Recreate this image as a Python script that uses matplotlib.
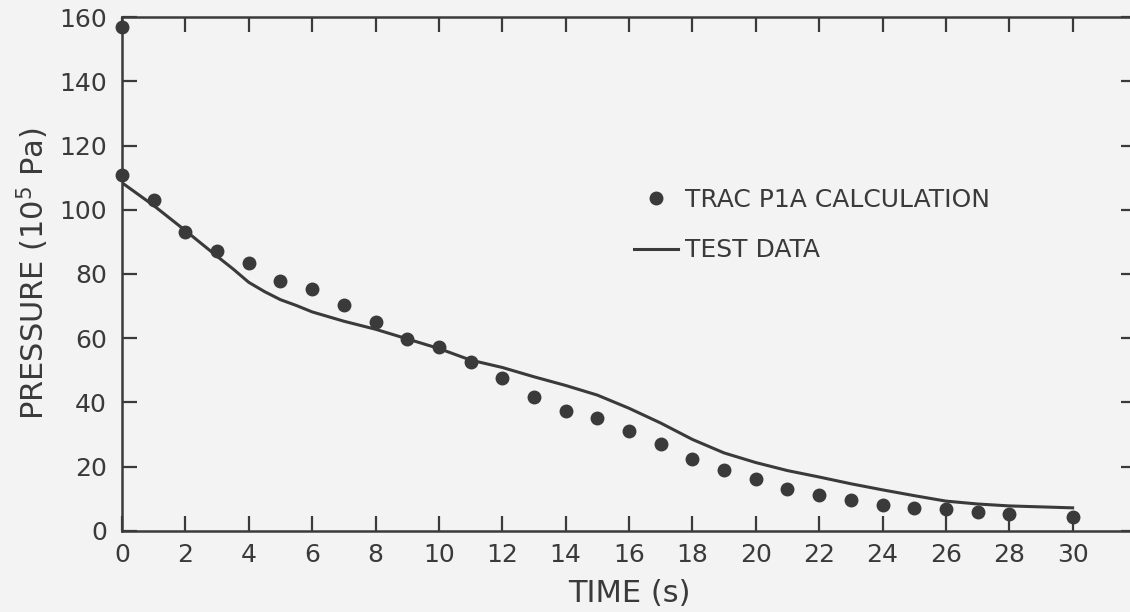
import matplotlib
matplotlib.use("Agg")
import matplotlib.pyplot as plt

# --- data ---
calc_time = [0, 0, 1, 2, 3, 4, 5, 6, 7, 8, 9, 10, 11, 12, 13, 14, 15, 16, 17, 18,
             19, 20, 21, 22, 23, 24, 25, 26, 27, 28, 30]
calc_pressure = [157, 110.7, 103.1, 93.1, 87.2, 83.4, 77.9, 75.3, 70.4, 65.1, 59.7,
                 57.4, 52.6, 47.5, 41.6, 37.5, 35.3, 31.0, 27.2, 22.5, 19.1, 16.3,
                 13.2, 11.3, 9.7, 8.2, 7.3, 6.9, 5.9, 5.3, 4.5]

test_time = [0, 1, 2, 3, 3.5, 4, 4.5, 5, 5.5, 6, 7, 8, 9, 10, 11, 12, 13, 14,
             15, 16, 17, 18, 19, 20, 21, 22, 23, 24, 25, 26, 27, 28, 29, 30]
test_pressure = [108.4, 101.3, 93.5, 85.5, 81.6, 77.4, 74.5, 72.0, 70.2, 68.2,
                 65.3, 62.8, 59.8, 56.8, 53.2, 50.9, 48.0, 45.3, 42.3, 38.2,
                 33.6, 28.5, 24.3, 21.3, 18.8, 16.8, 14.7, 12.8, 11.0, 9.3, 8.4,
                 7.8, 7.5, 7.2]

x_ticks = list(range(0, 31, 2))
y_ticks = list(range(0, 161, 20))

ink = "#3a3a3a"
bg = "#f3f3f3"

plt.rcParams["font.family"] = ["DejaVu Sans"]

fig = plt.figure(figsize=(11.3, 6.12), dpi=100, facecolor=bg)
ax = fig.add_axes([0.108, 0.1324, 0.8973, 0.8398], facecolor=bg)

ax.plot(test_time, test_pressure, color=ink, lw=2.2, label="TEST DATA", zorder=2)
ax.plot(calc_time, calc_pressure, ls="none", marker="o", ms=9, color=ink,
        label="TRAC P1A CALCULATION", zorder=3, clip_on=False)

ax.set_xlim(0, 32)
ax.set_ylim(0, 160)
ax.set_xticks(x_ticks)
ax.set_yticks(y_ticks)
ax.set_xticklabels([str(v) for v in x_ticks])
ax.set_yticklabels([str(v) for v in y_ticks])

for s in ax.spines.values():
    s.set_color(ink)
    s.set_linewidth(1.8)

ax.tick_params(axis="both", direction="in", length=11, width=1.6, color=ink,
               labelcolor=ink, labelsize=18, top=True, right=True)
ax.tick_params(axis="x", pad=9)
ax.tick_params(axis="y", pad=11)

ax.set_xlabel("TIME (s)", fontsize=22, color=ink, labelpad=8)
ax.set_ylabel("PRESSURE (10$^5$ Pa)", fontsize=22, color=ink, labelpad=6)

handles, labels = ax.get_legend_handles_labels()
leg = ax.legend(handles[::-1], labels[::-1], loc="center left",
                bbox_to_anchor=(0.505, 0.595), frameon=False, fontsize=18,
                labelspacing=1.05, handlelength=1.75, handletextpad=0.3,
                borderpad=0, borderaxespad=0)
for t in leg.get_texts():
    t.set_color(ink)

fig.savefig("out.png", dpi=100, facecolor=bg)
